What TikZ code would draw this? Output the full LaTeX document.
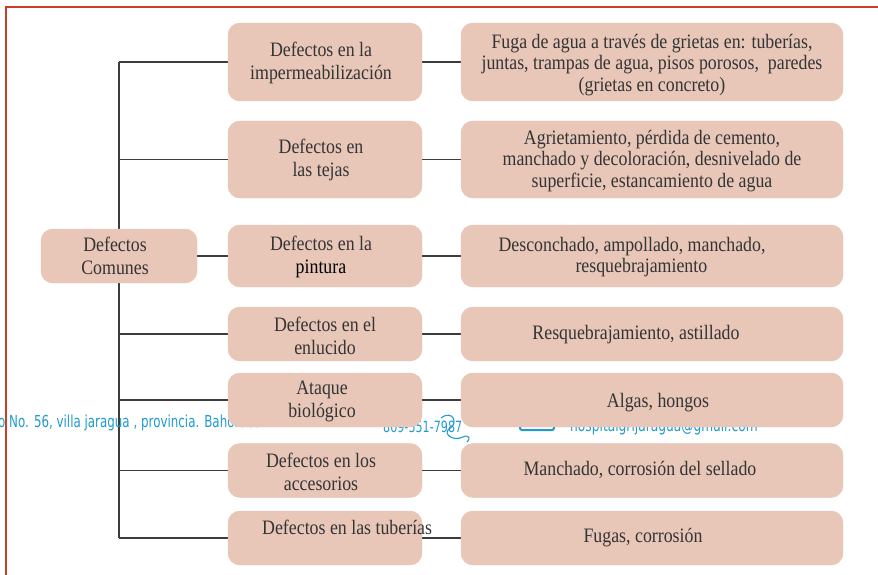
\documentclass[tikz,border=0pt]{standalone}
\usepackage{fontspec}
\setmainfont[FakeStretch=0.87]{Liberation Serif}
\newfontfamily\bluefont[FakeStretch=0.72]{DejaVu Sans}
\definecolor{boxfill}{RGB}{232,199,185}
\definecolor{txtc}{RGB}{52,52,52}
\definecolor{connc}{RGB}{60,60,60}
\definecolor{borderc}{RGB}{200,62,38}
\definecolor{bluec}{RGB}{32,155,205}
\tikzset{
  pbox/.style={fill=boxfill, draw=none, rounded corners=12pt, inner sep=0pt},
  lbl/.style={align=center, inner sep=0pt, text=txtc, font=\fontsize{20.5}{23}\selectfont},
  rlbl/.style={align=center, inner sep=0pt, text=txtc, font=\fontsize{20.5}{21.5}\selectfont},
  conn/.style={draw=connc, line width=1.5pt},
  bluetxt/.style={inner sep=0pt, anchor=base west, text=bluec}
}
\begin{document}
\begin{tikzpicture}[x=1pt,y=-1pt]
\useasboundingbox (0,0) rectangle (878,575);
% page border
\draw[borderc, line width=1.5pt] (6,575) -- (6,7) -- (879,7);
% connector anchors
\coordinate (t1) at (119,62);
\coordinate (t7) at (119,538);
% boxes (placed first to get anchors)
\path
  (119,256) node[pbox, minimum width=156pt, minimum height=54pt] (L) {}
  (325,62)    node[pbox, minimum width=194pt, minimum height=78pt] (m1) {}
  (325,159.5) node[pbox, minimum width=194pt, minimum height=77pt] (m2) {}
  (325,256)   node[pbox, minimum width=194pt, minimum height=62pt] (m3) {}
  (325,334)   node[pbox, minimum width=194pt, minimum height=54pt] (m4) {}
  (325,400)   node[pbox, minimum width=194pt, minimum height=54pt] (m5) {}
  (325,470.5) node[pbox, minimum width=194pt, minimum height=54pt] (m6) {}
  (325,538)   node[pbox, minimum width=194pt, minimum height=54pt] (m7) {}
  (652,62)    node[pbox, minimum width=382pt, minimum height=78pt] (r1) {}
  (652,159.5) node[pbox, minimum width=382pt, minimum height=77pt] (r2) {}
  (652,256)   node[pbox, minimum width=382pt, minimum height=62pt] (r3) {}
  (652,334)   node[pbox, minimum width=382pt, minimum height=54pt] (r4) {}
  (652,400)   node[pbox, minimum width=382pt, minimum height=54pt] (r5) {}
  (652,470.5) node[pbox, minimum width=382pt, minimum height=54pt] (r6) {}
  (652,538)   node[pbox, minimum width=382pt, minimum height=54pt] (r7) {};
% connectors
\draw[conn] (t1) -- (t7);
\draw[conn] (t1) -- (m1.west);
\draw[conn] (t1 |- m2.west) -- (m2.west);
\draw[conn] (L.east) -- (m3.west);
\draw[conn] (t1 |- m4.west) -- (m4.west);
\draw[conn] (t1 |- m5.west) -- (m5.west);
\draw[conn] (t1 |- m6.west) -- (m6.west);
\draw[conn] (t7) -- (m7.west);
\foreach \i in {1,...,7}{\draw[conn] (m\i.east) -- (r\i.west);}
% background blue footer text (partly hidden by boxes)
\node[bluetxt, font=\bluefont\fontsize{16.5}{18}\selectfont] (addr) at (-2,427) {o No. 56, villa jaragua , provincia. Bahoruco.};
\node[bluetxt, font=\bluefont\fontsize{15.5}{17}\selectfont] (phone) at (383,432) {809-551-7987};
\draw[bluec, line width=1.1pt] (441,418) .. controls (453,409) and (459,424) .. (449,429) .. controls (443,433) and (452,442) .. (463,437) .. controls (469,434) and (471,439) .. (467,442);
\draw[bluec, line width=2pt, rounded corners=2pt] (520,412) rectangle (554,430);
\node[bluetxt, font=\bluefont\fontsize{17}{19}\selectfont] (mail) at (570,431) {hospitalgrijaragua@gmail.com};
% boxes drawn on top
\foreach \n in {L,m1,m2,m3,m4,m5,m6,m7,r1,r2,r3,r4,r5,r6,r7}{
  \fill[boxfill, rounded corners=12pt] (\n.south west) rectangle (\n.north east);
}
% texts
\node[lbl] (tL) at (115,256) {Defectos\\Comunes};
\node[lbl] (t1l) at (321,63) {Defectos en la\\impermeabilización};
\node[lbl] (t2l) at (321,160) {Defectos en\\las tejas};
\node[lbl] (t3l) at (321,257) {Defectos en la\\{\color{black}pintura}};
\node[lbl] (t4l) at (325,336) {Defectos en el\\enlucido};
\node[lbl] (t5l) at (322,401) {Ataque\\biológico};
\node[lbl] (t6l) at (321,472) {Defectos en los\\accesorios};
\node[lbl, anchor=base west] (t7l) at (262,534) {Defectos en las tuberías};
\node[rlbl] (t1r) at (652,65) {Fuga de agua a través de grietas en: tuberías,\\juntas, trampas de agua, pisos porosos,\ \ paredes\\(grietas en concreto)};
\node[rlbl] (t2r) at (652,161) {Agrietamiento, pérdida de cemento,\\manchado y decoloración, desnivelado de\\superficie, estancamiento de agua};
\node[rlbl, align=left] (t3r) at (632,257) {Desconchado, ampollado, manchado,\\\hspace*{77pt}resquebrajamiento};
\node[rlbl] (t4r) at (636,335) {Resquebrajamiento, astillado};
\node[rlbl] (t5r) at (658,403) {Algas, hongos};
\node[rlbl] (t6r) at (640,470) {Manchado, corrosión del sellado};
\node[rlbl] (t7r) at (643,538) {Fugas, corrosión};
\end{tikzpicture}
\end{document}
